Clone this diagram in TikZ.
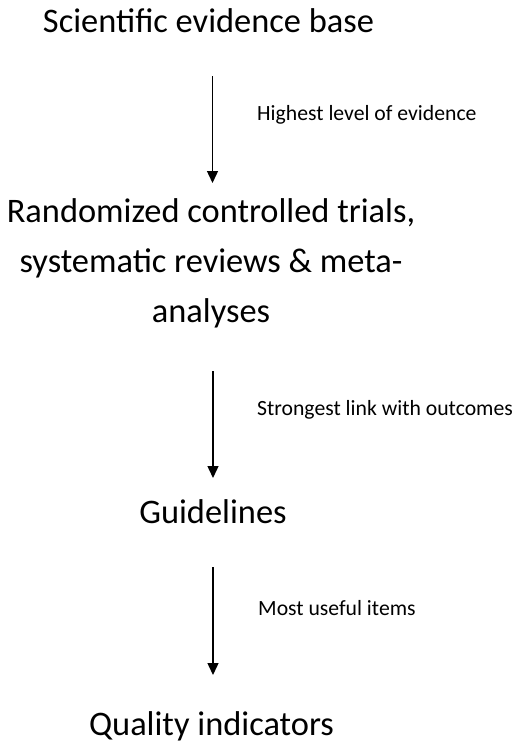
\documentclass[tikz,border=0pt]{standalone}
\usepackage{fontspec}
\setmainfont{Carlito}
\usetikzlibrary{arrows.meta,calc}
\begin{document}
\begin{tikzpicture}[x=1pt,y=1pt,
  big/.style={inner sep=0pt,font=\fontsize{34.4}{50}\selectfont,align=center},
  small/.style={inner sep=0pt,font=\fontsize{21.7}{26}\selectfont,anchor=base west},
  arr/.style={line width=1.4pt,-{Triangle[width=11pt,length=12pt]}}]
\useasboundingbox (0,0) rectangle (514,-744);
\node[big,anchor=base] (sci) at (208.5,-32) {Scientific evidence base};
\node[big,anchor=base] (rct) at (211,-322) {Randomized controlled trials,\\ systematic reviews \& meta-\\analyses};
\node[big,anchor=base] (gl) at (213,-523) {Guidelines};
\node[big,anchor=base] (qi) at (211.5,-735) {Quality indicators};
\draw[arr] ([xshift=4pt,yshift=-44pt]sci.base) -- ([xshift=1.5pt,yshift=39pt]rct.base |- 0,-222);
\draw[arr] ([xshift=2pt,yshift=-49pt]rct.base) -- ([yshift=45pt]gl.base);
\draw[arr] ([yshift=-44pt]gl.base) -- ([xshift=1.5pt,yshift=60pt]qi.base);
\node[small] (l1) at (257,-120) {Highest level of evidence};
\node[small] (l2) at (257,-415) {Strongest link with outcomes};
\node[small] (l3) at (258,-615) {Most useful items};
\end{tikzpicture}
\end{document}
